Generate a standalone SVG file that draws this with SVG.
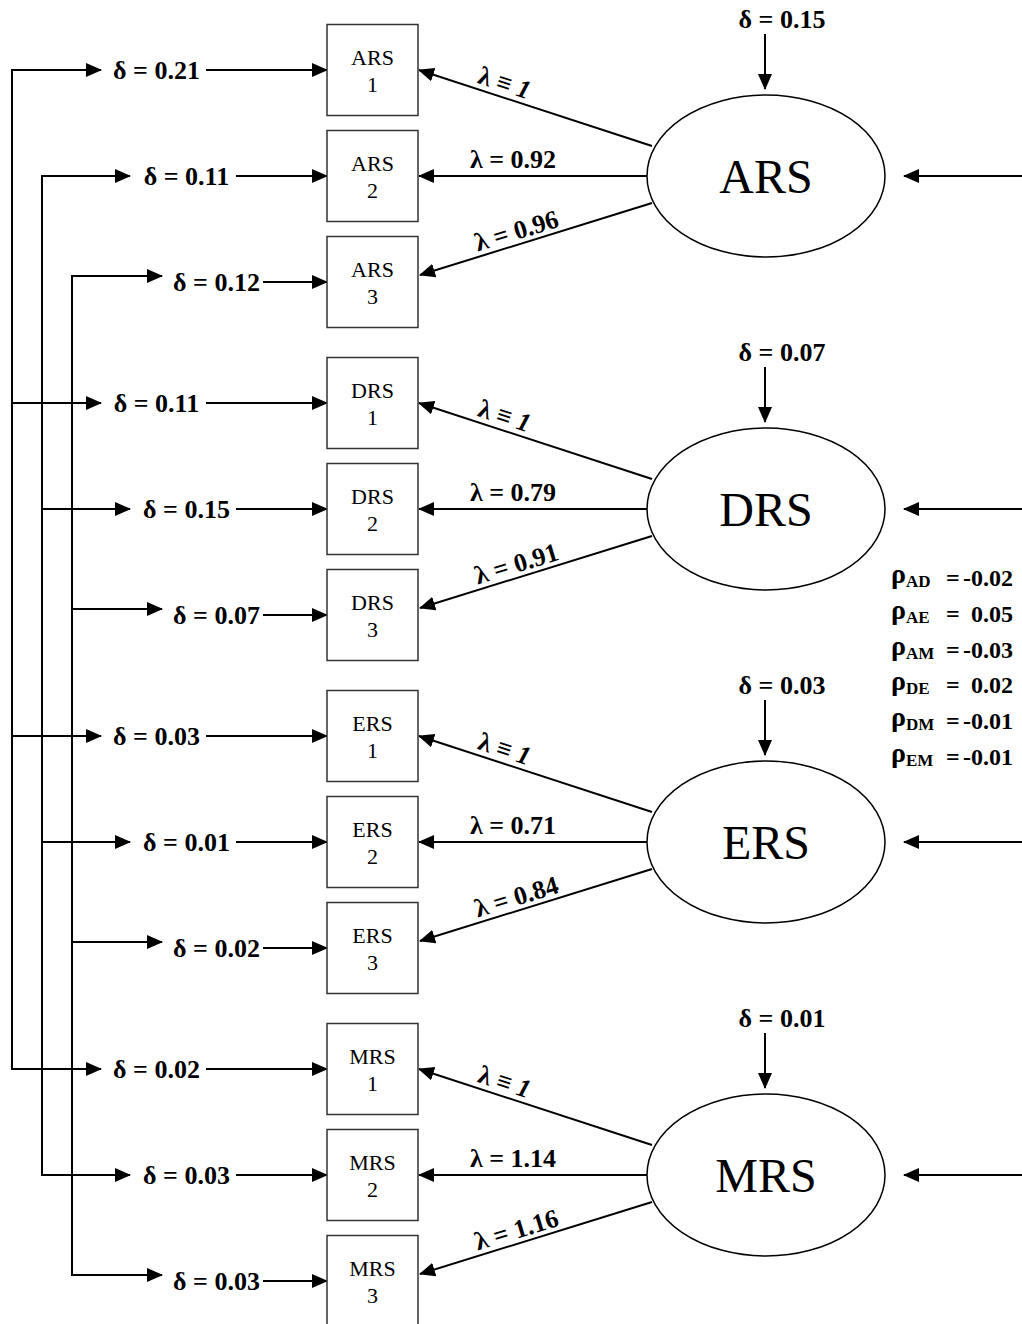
<svg xmlns="http://www.w3.org/2000/svg" width="1022" height="1324" viewBox="0 0 1022 1324">
<defs>
<marker id="ah" markerWidth="16" markerHeight="14" refX="15" refY="7" orient="auto" markerUnits="userSpaceOnUse">
<path d="M0,0 L16,7 L0,14 z" fill="#000"/>
</marker>
<style>
.box{fill:#fff;stroke:#333;stroke-width:1.5}
.ell{fill:#fff;stroke:#000;stroke-width:1.5}
.bt{font-family:"Liberation Serif",serif;font-size:22px;text-anchor:middle;fill:#000}
.et{font-family:"Liberation Serif",serif;font-size:48px;text-anchor:middle;fill:#000}
.lb{font-family:"Liberation Serif",serif;font-size:26px;font-weight:bold;text-anchor:middle;fill:#000}
.rh{font-family:"Liberation Serif",serif;font-size:24px;font-weight:bold;fill:#000}
.rho{font-size:28px}
.sub{font-size:17px}
.c{fill:none;stroke:#000;stroke-width:2}
.a{fill:none;stroke:#000;stroke-width:2;marker-end:url(#ah)}
</style>
</defs>
<rect width="1022" height="1324" fill="#fff"/>

<g id="connectors">
<path class="c" d="M12,70 V1069" stroke-linecap="square"/>
<path class="c" d="M42,176 V1175" stroke-linecap="square"/>
<path class="c" d="M72,276 V1275" stroke-linecap="square"/>
<!-- ARS -->
<path class="a" d="M12,70 H101"/><path class="a" d="M42,176 H130"/><path class="a" d="M72,276 H162"/>
<path class="a" d="M206,70 H327"/><path class="a" d="M236,176 H327"/><path class="a" d="M263,282 H327"/>
<path class="a" d="M652,146 L419,70"/><path class="a" d="M647,176 H419"/><path class="a" d="M652,203 L420,275"/>
<path class="a" d="M765,34 V89"/><path class="a" d="M1022,176 H904"/>
<!-- DRS -->
<path class="a" d="M12,403 H101"/><path class="a" d="M42,509 H130"/><path class="a" d="M72,609 H162"/>
<path class="a" d="M206,403 H327"/><path class="a" d="M236,509 H327"/><path class="a" d="M263,615 H327"/>
<path class="a" d="M652,479 L419,403"/><path class="a" d="M647,509 H419"/><path class="a" d="M652,536 L420,608"/>
<path class="a" d="M765,367 V422"/><path class="a" d="M1022,509 H904"/>
<!-- ERS -->
<path class="a" d="M12,736 H101"/><path class="a" d="M42,842 H130"/><path class="a" d="M72,942 H162"/>
<path class="a" d="M206,736 H327"/><path class="a" d="M236,842 H327"/><path class="a" d="M263,948 H327"/>
<path class="a" d="M652,812 L419,736"/><path class="a" d="M647,842 H419"/><path class="a" d="M652,869 L420,941"/>
<path class="a" d="M765,700 V755"/><path class="a" d="M1022,842 H904"/>
<!-- MRS -->
<path class="a" d="M12,1069 H101"/><path class="a" d="M42,1175 H130"/><path class="a" d="M72,1275 H162"/>
<path class="a" d="M206,1069 H327"/><path class="a" d="M236,1175 H327"/><path class="a" d="M263,1281 H327"/>
<path class="a" d="M652,1145 L419,1069"/><path class="a" d="M647,1175 H419"/><path class="a" d="M652,1202 L420,1274"/>
<path class="a" d="M765,1033 V1088"/><path class="a" d="M1022,1175 H904"/>
</g>

<!-- observed indicator boxes -->
<g id="ARS1"><rect class="box" x="327" y="24.5" width="91" height="91"/><text class="bt" x="372.5" y="65">ARS</text><text class="bt" x="372.5" y="92">1</text></g>
<g id="ARS2"><rect class="box" x="327" y="130.5" width="91" height="91"/><text class="bt" x="372.5" y="171">ARS</text><text class="bt" x="372.5" y="198">2</text></g>
<g id="ARS3"><rect class="box" x="327" y="236.5" width="91" height="91"/><text class="bt" x="372.5" y="277">ARS</text><text class="bt" x="372.5" y="304">3</text></g>
<g id="DRS1"><rect class="box" x="327" y="357.5" width="91" height="91"/><text class="bt" x="372.5" y="398">DRS</text><text class="bt" x="372.5" y="425">1</text></g>
<g id="DRS2"><rect class="box" x="327" y="463.5" width="91" height="91"/><text class="bt" x="372.5" y="504">DRS</text><text class="bt" x="372.5" y="531">2</text></g>
<g id="DRS3"><rect class="box" x="327" y="569.5" width="91" height="91"/><text class="bt" x="372.5" y="610">DRS</text><text class="bt" x="372.5" y="637">3</text></g>
<g id="ERS1"><rect class="box" x="327" y="690.5" width="91" height="91"/><text class="bt" x="372.5" y="731">ERS</text><text class="bt" x="372.5" y="758">1</text></g>
<g id="ERS2"><rect class="box" x="327" y="796.5" width="91" height="91"/><text class="bt" x="372.5" y="837">ERS</text><text class="bt" x="372.5" y="864">2</text></g>
<g id="ERS3"><rect class="box" x="327" y="902.5" width="91" height="91"/><text class="bt" x="372.5" y="943">ERS</text><text class="bt" x="372.5" y="970">3</text></g>
<g id="MRS1"><rect class="box" x="327" y="1023.5" width="91" height="91"/><text class="bt" x="372.5" y="1064">MRS</text><text class="bt" x="372.5" y="1091">1</text></g>
<g id="MRS2"><rect class="box" x="327" y="1129.5" width="91" height="91"/><text class="bt" x="372.5" y="1170">MRS</text><text class="bt" x="372.5" y="1197">2</text></g>
<g id="MRS3"><rect class="box" x="327" y="1235.5" width="91" height="91"/><text class="bt" x="372.5" y="1276">MRS</text><text class="bt" x="372.5" y="1303">3</text></g>

<!-- latent ellipses -->
<g id="ARS"><ellipse class="ell" cx="766" cy="176" rx="119" ry="81"/><text class="et" x="766" y="193">ARS</text></g>
<g id="DRS"><ellipse class="ell" cx="766" cy="509" rx="119" ry="81"/><text class="et" x="766" y="526">DRS</text></g>
<g id="ERS"><ellipse class="ell" cx="766" cy="842" rx="119" ry="81"/><text class="et" x="766" y="859">ERS</text></g>
<g id="MRS"><ellipse class="ell" cx="766" cy="1175" rx="119" ry="81"/><text class="et" x="766" y="1192">MRS</text></g>

<!-- error labels -->
<g id="errors">
<text class="lb" x="156.5" y="79">δ = 0.21</text>
<text class="lb" x="186.5" y="185">δ = 0.11</text>
<text class="lb" x="216.5" y="291">δ = 0.12</text>
<text class="lb" x="156.5" y="412">δ = 0.11</text>
<text class="lb" x="186.5" y="518">δ = 0.15</text>
<text class="lb" x="216.5" y="624">δ = 0.07</text>
<text class="lb" x="156.5" y="745">δ = 0.03</text>
<text class="lb" x="186.5" y="851">δ = 0.01</text>
<text class="lb" x="216.5" y="957">δ = 0.02</text>
<text class="lb" x="156.5" y="1078">δ = 0.02</text>
<text class="lb" x="186.5" y="1184">δ = 0.03</text>
<text class="lb" x="216.5" y="1290">δ = 0.03</text>
<text class="lb" x="782" y="28">δ = 0.15</text>
<text class="lb" x="782" y="361">δ = 0.07</text>
<text class="lb" x="782" y="694">δ = 0.03</text>
<text class="lb" x="782" y="1027">δ = 0.01</text>
</g>

<!-- loading labels -->
<g id="loadings">
<text class="lb" transform="translate(502,91) rotate(18)">λ ≡ <tspan font-style="italic">1</tspan></text>
<text class="lb" x="513" y="168">λ = 0.92</text>
<text class="lb" transform="translate(519,239) rotate(-17)">λ = 0.96</text>
<text class="lb" transform="translate(502,424) rotate(18)">λ ≡ <tspan font-style="italic">1</tspan></text>
<text class="lb" x="513" y="501">λ = 0.79</text>
<text class="lb" transform="translate(519,572) rotate(-17)">λ = 0.91</text>
<text class="lb" transform="translate(502,757) rotate(18)">λ ≡ <tspan font-style="italic">1</tspan></text>
<text class="lb" x="513" y="834">λ = 0.71</text>
<text class="lb" transform="translate(519,905) rotate(-17)">λ = 0.84</text>
<text class="lb" transform="translate(502,1090) rotate(18)">λ ≡ <tspan font-style="italic">1</tspan></text>
<text class="lb" x="513" y="1167">λ = 1.14</text>
<text class="lb" transform="translate(519,1238) rotate(-17)">λ = 1.16</text>
</g>

<!-- correlations -->
<g id="correlations">
<text class="rh" x="891" y="583"><tspan class="rho">ρ</tspan><tspan class="sub" dy="4">AD</tspan></text><text class="rh" x="946" y="586">=</text><text class="rh" x="1013" y="586" text-anchor="end">-0.02</text>
<text class="rh" x="891" y="619"><tspan class="rho">ρ</tspan><tspan class="sub" dy="4">AE</tspan></text><text class="rh" x="946" y="622">=</text><text class="rh" x="1013" y="622" text-anchor="end">0.05</text>
<text class="rh" x="891" y="655"><tspan class="rho">ρ</tspan><tspan class="sub" dy="4">AM</tspan></text><text class="rh" x="946" y="658">=</text><text class="rh" x="1013" y="658" text-anchor="end">-0.03</text>
<text class="rh" x="891" y="690"><tspan class="rho">ρ</tspan><tspan class="sub" dy="4">DE</tspan></text><text class="rh" x="946" y="693">=</text><text class="rh" x="1013" y="693" text-anchor="end">0.02</text>
<text class="rh" x="891" y="726"><tspan class="rho">ρ</tspan><tspan class="sub" dy="4">DM</tspan></text><text class="rh" x="946" y="729">=</text><text class="rh" x="1013" y="729" text-anchor="end">-0.01</text>
<text class="rh" x="891" y="762"><tspan class="rho">ρ</tspan><tspan class="sub" dy="4">EM</tspan></text><text class="rh" x="946" y="765">=</text><text class="rh" x="1013" y="765" text-anchor="end">-0.01</text>
</g>
</svg>
